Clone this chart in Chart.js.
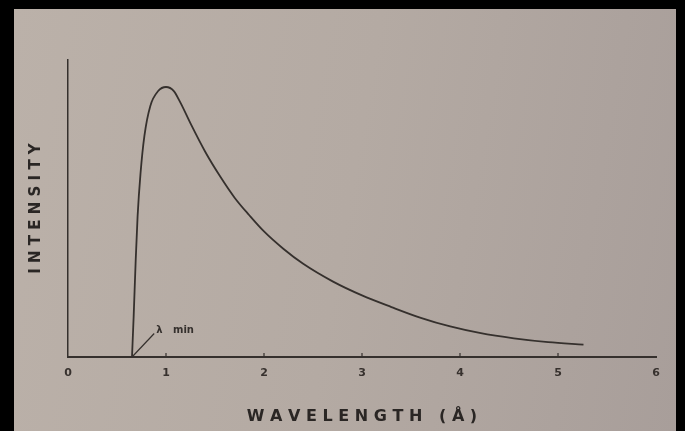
<!DOCTYPE html>
<html>
<head>
<meta charset="utf-8">
<script src="https://cdn.jsdelivr.net/npm/chart.js@4"></script>
<style>
    html, body { margin: 0; padding: 0; background: #000; }
    #paper {
        position: absolute; left: 14px; top: 9px; width: 662px; height: 422px;
        background: linear-gradient(100deg, #bbb1a9 0%, #b4aaa3 50%, #a89e9a 100%);
    }
    #wrap { position: absolute; left: 0; top: 0; width: 685px; height: 431px; }
</style>
</head>
<body>
<div id="paper"></div>
<div id="wrap"><canvas id="chart" width="685" height="431"></canvas></div>
<script>
(function() {
    'use strict';

    // wavelength (A) and relative intensity
    const wavelength = [0.653, 0.67, 0.69, 0.71, 0.74, 0.78, 0.84, 0.92, 1.0, 1.08, 1.15, 1.25, 1.4, 1.55, 1.7, 1.85, 2.0, 2.2, 2.4, 2.7, 3.0, 3.3, 3.6, 3.9, 4.2, 4.55, 4.9, 5.26];
    const intensity  = [0.0,   0.15, 0.35, 0.52, 0.68, 0.82, 0.93, 0.985, 1.0, 0.985, 0.94, 0.865, 0.76, 0.67, 0.59, 0.525, 0.465, 0.4, 0.345, 0.28, 0.228, 0.185, 0.145, 0.113, 0.089, 0.069, 0.055, 0.046];
    const xTicks = [0, 1, 2, 3, 4, 5, 6];
    const lambdaMin = wavelength[0];

    const ink = '#35302d';

    // small upward tick marks and the "λ min" callout
    const decorations = {
        id: 'decorations',
        afterDraw(chart) {
            const { ctx, scales: { x, y } } = chart;
            ctx.save();
            ctx.strokeStyle = ink;
            ctx.lineWidth = 1.2;
            const y0 = y.getPixelForValue(0);
            xTicks.slice(1, -1).forEach(t => {
                const px = x.getPixelForValue(t);
                ctx.beginPath();
                ctx.moveTo(px, y0);
                ctx.lineTo(px, y0 - 4);
                ctx.stroke();
            });
            // leader line from lambda min
            const lx = x.getPixelForValue(lambdaMin);
            const tx = x.getPixelForValue(0.89);
            const ty = y.getPixelForValue(0.087);
            ctx.beginPath();
            ctx.moveTo(lx, y0);
            ctx.lineTo(tx - 1, ty);
            ctx.stroke();
            ctx.fillStyle = ink;
            ctx.font = 'bold 10px "DejaVu Sans"';
            ctx.textBaseline = 'middle';
            ctx.fillText('\u03bb   min', tx + 1, ty - 3);
            ctx.restore();
        }
    };

    new Chart(document.getElementById('chart'), {
        type: 'scatter',
        data: {
            datasets: [{
                data: wavelength.map((w, i) => ({ x: w, y: intensity[i] })),
                showLine: true,
                cubicInterpolationMode: 'monotone',
                borderColor: ink,
                borderWidth: 1.8,
                pointRadius: 0
            }]
        },
        options: {
            responsive: false,
            animation: false,
            layout: { padding: { left: 0, right: 29, top: 60, bottom: 0 } },
            plugins: { legend: { display: false }, tooltip: { enabled: false } },
            scales: {
                x: {
                    type: 'linear',
                    min: 0,
                    max: 6,
                    afterFit: s => { s.height = 74; },
                    grid: { display: false, drawTicks: false },
                    border: { display: true, color: ink, width: 2 },
                    ticks: {
                        stepSize: 1,
                        padding: 10,
                        color: '#37312e',
                        font: { family: 'DejaVu Sans', size: 11, weight: 'bold' },
                        callback: v => xTicks.includes(v) ? String(v) : ''
                    },
                    title: {
                        display: true,
                        text: 'W A V E L E N G T H   ( \u00c5 )',
                        color: '#2a2624',
                        font: { family: 'DejaVu Sans', size: 16, weight: 'bold' },
                        padding: { top: 0, bottom: 5 }
                    }
                },
                y: {
                    min: 0,
                    max: 1.1,
                    afterFit: s => { s.width = 68; },
                    grid: { display: false, drawTicks: false },
                    border: { display: true, color: ink, width: 1.5 },
                    ticks: { display: false },
                    title: {
                        display: true,
                        text: 'I N T E N S I T Y',
                        color: '#2a2624',
                        font: { family: 'DejaVu Sans', size: 15, weight: 'bold' },
                        padding: { top: 27, bottom: 0 }
                    }
                }
            }
        },
        plugins: [decorations]
    });
})();
</script>
</body>
</html>
